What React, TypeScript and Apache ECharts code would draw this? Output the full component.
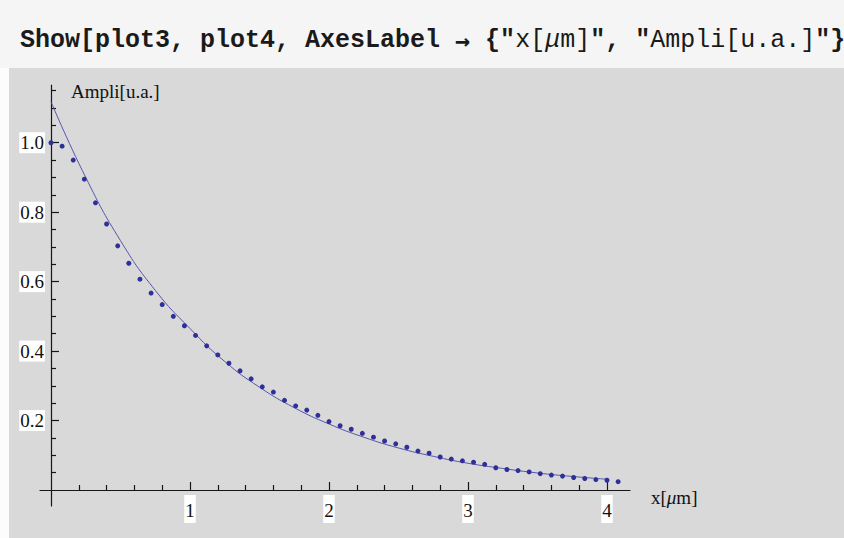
import React, { useEffect, useRef } from 'react';
import * as echarts from 'echarts';

// ---- data ----
const dotX = [
  0, 0.08, 0.16, 0.24, 0.32, 0.4, 0.48, 0.56, 0.64, 0.72, 0.8, 0.88, 0.96, 1.04, 1.12, 1.2, 1.28,
  1.36, 1.44, 1.52, 1.6, 1.68, 1.76, 1.84, 1.92, 2.0, 2.08, 2.16, 2.24, 2.32, 2.4, 2.48, 2.56,
  2.64, 2.72, 2.8, 2.88, 2.96, 3.04, 3.12, 3.2, 3.28, 3.36, 3.44, 3.52, 3.6, 3.68, 3.76, 3.84,
  3.92, 4.0, 4.08,
];
const dotY = [
  1.0, 0.99, 0.95, 0.895, 0.827, 0.766, 0.703, 0.653, 0.607, 0.567, 0.534, 0.5, 0.473, 0.445,
  0.415, 0.389, 0.365, 0.343, 0.32, 0.297, 0.282, 0.258, 0.242, 0.23, 0.215, 0.197, 0.185, 0.175,
  0.163, 0.152, 0.141, 0.133, 0.123, 0.112, 0.106, 0.095, 0.089, 0.084, 0.08, 0.074, 0.064, 0.059,
  0.056, 0.052, 0.047, 0.043, 0.04, 0.036, 0.033, 0.03, 0.028, 0.024,
];
const curveX = [0, 0.25, 0.5, 0.75, 1.0, 1.25, 1.5, 1.75, 2.0, 2.25, 2.5, 2.75, 3.0, 3.25, 3.5, 3.75, 4.0];
const curveY = [
  1.118, 0.9, 0.718, 0.575, 0.465, 0.37, 0.296, 0.237, 0.19, 0.152, 0.121, 0.097, 0.077, 0.062,
  0.049, 0.039, 0.031,
];

const xMajorTicks = [1, 2, 3, 4];
const xTickLabels = ['1', '2', '3', '4'];
const xMinorTicks = [0.2, 0.4, 0.6, 0.8, 1.2, 1.4, 1.6, 1.8, 2.2, 2.4, 2.6, 2.8, 3.2, 3.4, 3.6, 3.8];
const yMajorTicks = [0.2, 0.4, 0.6, 0.8, 1.0];
const yTickLabels = ['0.2', '0.4', '0.6', '0.8', '1.0'];
const yMinorTicks = [
  0.05, 0.1, 0.15, 0.25, 0.3, 0.35, 0.45, 0.5, 0.55, 0.65, 0.7, 0.75, 0.85, 0.9, 0.95, 1.05, 1.1,
  1.15,
];

const yAxisName = 'Ampli[u.a.]';
const codeLine =
  'Show[{b|plot3}, {b|plot4}, AxesLabel {a|→} {"{s|x[}{si|μ}{s|m]}", "{s|Ampli[u.a.]}"}]';

// ---- axis extents (the axes overhang the origin as in the reference) ----
const X_MIN = -0.0791;
const X_MAX = 4.1655;
const Y_MIN = -0.0461;
const Y_MAX = 1.1662;

const SERIF = '"Liberation Serif", "DejaVu Serif", serif';
const MONO = '"Liberation Mono", "DejaVu Sans Mono", monospace';
const AXIS_COLOR = '#161616';

const labelFor = (ticks: number[], labels: string[]) => (v: number) => {
  const i = ticks.findIndex((t) => Math.abs(t - v) < 1e-9);
  return i >= 0 ? labels[i] : '';
};

export default function App() {
  const ref = useRef<HTMLDivElement>(null);

  useEffect(() => {
    document.body.style.margin = '0';
    if (!ref.current) return;
    const chart = echarts.init(ref.current, undefined, { renderer: 'svg' });

    const monoBase = { fontFamily: MONO, fontSize: 25 };

    chart.setOption({
      animation: false,
      backgroundColor: '#d9d9d9',
      grid: { left: 40, top: 85, width: 590, height: 421, containLabel: false, outerBoundsMode: 'none' },
      xAxis: [
        {
          type: 'value',
          position: 'bottom',
          min: X_MIN,
          max: X_MAX,
          axisLine: { show: true, onZero: true, lineStyle: { color: AXIS_COLOR, width: 1.2 } },
          axisTick: {
            show: true,
            inside: true,
            length: 8,
            customValues: xMajorTicks,
            lineStyle: { color: AXIS_COLOR, width: 1.2 },
          },
          axisLabel: {
            show: true,
            customValues: xMajorTicks,
            formatter: labelFor(xMajorTicks, xTickLabels),
            margin: -11,
            backgroundColor: '#ffffff',
            padding: [6, 1, 4, 1],
            fontFamily: SERIF,
            fontSize: 19,
            lineHeight: 18,
            color: '#111',
          },
          splitLine: { show: false },
        },
        {
          type: 'value',
          position: 'bottom',
          min: X_MIN,
          max: X_MAX,
          axisLine: { show: false, onZero: true, onZeroAxisIndex: 1 },
          axisTick: {
            show: true,
            inside: true,
            length: 5,
            customValues: xMinorTicks,
            lineStyle: { color: AXIS_COLOR, width: 1.2 },
          },
          axisLabel: { show: false },
          splitLine: { show: false },
        },
      ],
      yAxis: [
        {
          type: 'value',
          position: 'left',
          min: Y_MIN,
          max: Y_MAX,
          axisLine: { show: true, onZero: true, lineStyle: { color: AXIS_COLOR, width: 1.2 } },
          axisTick: {
            show: true,
            inside: true,
            length: 8,
            customValues: yMajorTicks,
            lineStyle: { color: AXIS_COLOR, width: 1.2 },
          },
          axisLabel: {
            show: true,
            customValues: yMajorTicks,
            formatter: labelFor(yMajorTicks, yTickLabels),
            margin: -5,
            backgroundColor: '#ffffff',
            padding: [2, 1, 1, 1],
            fontFamily: SERIF,
            fontSize: 19,
            lineHeight: 18,
            color: '#111',
          },
          splitLine: { show: false },
        },
        {
          type: 'value',
          position: 'left',
          min: Y_MIN,
          max: Y_MAX,
          axisLine: { show: false, onZero: true, onZeroAxisIndex: 1 },
          axisTick: {
            show: true,
            inside: true,
            length: 5,
            customValues: yMinorTicks,
            lineStyle: { color: AXIS_COLOR, width: 1.2 },
          },
          axisLabel: { show: false },
          splitLine: { show: false },
        },
      ],
      series: [
        {
          type: 'line',
          xAxisIndex: 0,
          yAxisIndex: 0,
          data: curveX.map((x, i) => [x, curveY[i]]),
          smooth: true,
          showSymbol: false,
          lineStyle: { color: '#5656ad', width: 1 },
          z: 2,
        },
        {
          type: 'scatter',
          xAxisIndex: 0,
          yAxisIndex: 0,
          data: dotX.map((x, i) => [x, dotY[i]]),
          symbolSize: 5,
          itemStyle: { color: '#2f2f99', opacity: 1 },
          z: 3,
        },
      ],
      graphic: [
        { type: 'rect', shape: { x: 0, y: 0, width: 844, height: 68 }, style: { fill: '#f5f5f5' }, z: -1 },
        { type: 'rect', shape: { x: 0, y: 68, width: 9, height: 470 }, style: { fill: '#fcfcfc' }, z: -1 },
        {
          type: 'text',
          x: 20,
          y: 40,
          style: {
            text: codeLine,
            ...monoBase,
            fontWeight: 'bold',
            fill: '#1a1a1a',
            verticalAlign: 'middle',
            rich: {
              b: { ...monoBase, fontWeight: 'bold', color: '#2547cf' },
              a: { fontFamily: '"DejaVu Sans Mono", monospace', fontSize: 25, fontWeight: 'bold', color: '#1a1a1a' },
              s: { ...monoBase, fontWeight: 'normal', color: '#6a6a6a' },
              si: { ...monoBase, fontWeight: 'normal', fontStyle: 'italic', color: '#6a6a6a' },
            },
          },
        },
        {
          type: 'text',
          x: 71,
          y: 91,
          style: {
            text: yAxisName,
            fontFamily: SERIF,
            fontSize: 19,
            fill: '#111',
            verticalAlign: 'middle',
          },
        },
        {
          type: 'text',
          x: 651,
          y: 497,
          style: {
            text: 'x[{i|μ}m]',
            fontFamily: SERIF,
            fontSize: 19,
            fill: '#111',
            verticalAlign: 'middle',
            rich: {
              i: { fontFamily: SERIF, fontSize: 19, fontStyle: 'italic', color: '#111' },
            },
          },
        },
      ],
    });

    return () => chart.dispose();
  }, []);

  return <div ref={ref} style={{ width: 844, height: 538 }} />;
}
